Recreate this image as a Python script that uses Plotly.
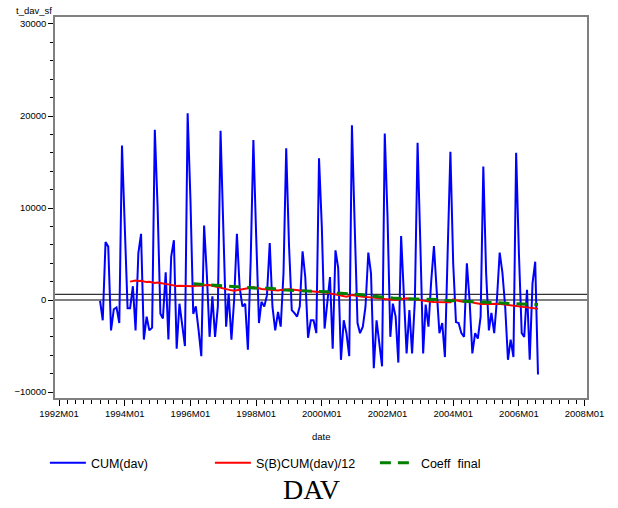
import pandas as pd
import plotly.graph_objects as go

# CUM(dav), monthly from 1993M04
cum_dav = [
    -100, -2200, 6300, 5800, -3300, -1000, -800, -2500, 16800,
    8000, -900, -900, 1500, -3300, 5100, 7200, -4300, -1800, -3300, -3000, 18500,
    10100, -1500, -2000, 3000, -4300, 4700, 6500, -5300, -400, -2900, -5000, 20300,
    11000, -1500, -700, -3300, -6100, 8100, 2900, -4000, 400, -4000, -700, 18400,
    9000, -2900, 700, -4300, 0, 7200, 1400, -700, -400, -5400, 4300, 17400,
    7000, -2500, -200, -700, 500, 6200, -700, -3300, -1300, -2900, 2900, 16500,
    6000, -1100, -1400, -1800, -700, 5300, 2500, -4100, -2200, -2200, -3600, 15400,
    8000, -3100, -400, 2500, -5300, 5400, 3500, -6500, -2200, -3600, -6100, 19000,
    8000, -2500, -3600, -2900, -700, 5150, 2900, -7400, -2200, -4700, -7200, 18100,
    9000, -4000, -400, -1800, -6800, 6950, 0, -5800, -1100, -5800, 0, 17100,
    6000, -5800, -500, -2900, 2000, 5870, 1100, -3600, -2500, -6200, 5400, 16100,
    4000, -2400, -2500, -3600, -4000, 4000, 0, -5800, -3600, -4200, -1800, 14500,
    3000, -3300, -1400, -3600, 0, 5150, 3000, -700, -6500, -4300, -6200, 16000,
    5000, -3600, -4000, 1100, -6500, 1800, 4170, -8100,
]

# S(B)CUM(dav)/12, monthly from 1994M03
sb_cum = [
    2000, 2050, 2120, 2080, 2100, 2020, 1950, 1980, 1880, 1850,
    1900, 1820, 1780, 1740, 1700, 1650, 1580, 1520, 1560, 1540, 1500, 1530,
    1520, 1490, 1540, 1520, 1560, 1600, 1640, 1630, 1560, 1480, 1400, 1330,
    1270, 1200, 1130, 1050, 1010, 1060, 1090, 1100, 1150, 1250, 1330, 1380,
    1350, 1280, 1200, 1160, 1120, 1080, 1050, 1010, 1030, 1080, 1120, 1160,
    1160, 1150, 1100, 1060, 1030, 1010, 1000, 980, 950, 930, 910, 900,
    880, 850, 800, 720, 650, 580, 500, 430, 380, 360, 450, 540,
    500, 430, 380, 360, 340, 320, 300, 290, 250, 200, 150, 110,
    110, 80, 40, 0, 60, 120, 160, 180, 150, 100, 50, 0,
    0, -60, -120, -180, -200, -220, -240, -250, -260, -260, -250, -250,
    70, -20, -100, -150, -160, -170, -180, -250, -330, -400, -430, -440,
    -430, -430, -420, -400, -360, -400, -450, -500, -540, -580, -630, -680,
    -720, -740, -770, -800, -840, -880, -920, -950,
]

# Coeff final, monthly from 1996M02
coeff_final = [
    1760, 1740, 1720, 1700, 1670, 1640, 1600, 1560, 1540, 1520, 1500,
    1480, 1460, 1450, 1440, 1430, 1420, 1400, 1370, 1330, 1290, 1270, 1260,
    1260, 1270, 1290, 1300, 1300, 1280, 1240, 1190, 1140, 1110, 1100, 1080,
    1070, 1050, 1030, 1010, 1000, 990, 990, 990, 990, 990, 990, 980,
    960, 930, 890, 840, 790, 750, 740, 730, 720, 700, 680, 650,
    640, 630, 620, 580, 520, 460, 420, 400, 380, 340, 290, 250,
    230, 220, 210, 200, 180, 150, 120, 110, 110, 110, 100, 100,
    100, 110, 110, 100, 90, 80, 70, 40, 0, -40, -70, -80,
    -80, -90, -110, -130, -140, -140, -150, -160, -170, -180, -180, -190,
    -200, -220, -240, -250, -260, -280, -310, -340, -360, -380, -400, -420,
    -430, -440, -450, -460, -470, -480, -490, -500,
]

ref_lines = [0, 620]
year_ticks = list(range(1992, 2010, 2))
x_tick_labels = [f"{y}M01" for y in year_ticks]
y_ticks = [-10000, 0, 10000, 20000, 30000]
y_tick_labels = ["\u221210000", "0", "10000", "20000", "30000"]

d_cum = pd.date_range("1993-04-01", periods=len(cum_dav), freq="MS")
d_sb = pd.date_range("1994-03-01", periods=len(sb_cum), freq="MS")
d_cf = pd.date_range("1996-02-01", periods=len(coeff_final), freq="MS")

fig = go.Figure()
fig.add_trace(go.Scatter(x=d_cum, y=cum_dav, mode="lines", name="CUM(dav)",
                         line=dict(color="#0000ff", width=2)))
fig.add_trace(go.Scatter(x=d_sb, y=sb_cum, mode="lines", name="S(B)CUM(dav)/12",
                         line=dict(color="#ff0000", width=2)))
fig.add_trace(go.Scatter(x=d_cf, y=coeff_final, mode="lines", name="Coeff  final",
                         line=dict(color="#008000", width=3, dash="11px,7px")))

# reference lines
fig.add_shape(type="line", xref="paper", x0=0, x1=1, y0=ref_lines[0], y1=ref_lines[0],
              line=dict(color="#808080", width=2), layer="below")
fig.add_shape(type="line", xref="paper", x0=0, x1=1, y0=ref_lines[1], y1=ref_lines[1],
              line=dict(color="#000000", width=1), layer="below")

font = "Liberation Sans, Arial, sans-serif"
fig.update_xaxes(
    type="date", range=["1991-11-17", "2008-01-28"],
    tickvals=[f"{y}-01-01" for y in year_ticks], ticktext=x_tick_labels,
    ticks="outside", ticklen=6, tickcolor="#000", tickfont=dict(size=9.5, color="#000"),
    minor=dict(dtick="M3", tick0="1992-01-01", ticks="outside", ticklen=4, tickcolor="#000"),
    showline=True, linecolor="#808080", linewidth=1.5, mirror=True, showgrid=False,
    zeroline=False, automargin=False,
)
fig.update_yaxes(
    range=[-10650, 30760], tickvals=y_ticks, ticktext=y_tick_labels,
    ticks="outside", ticklen=5, tickcolor="#000", tickfont=dict(size=9.5, color="#000"),
    minor=dict(dtick=2000, ticks="outside", ticklen=3, tickcolor="#000"),
    showline=True, linecolor="#808080", linewidth=1.5, mirror=True, showgrid=False,
    zeroline=False, automargin=False,
)

fig.add_annotation(text="t_dav_sf", xref="paper", yref="paper", x=-0.077, y=1.018,
                   xanchor="left", yanchor="middle", showarrow=False, font=dict(size=9.5))
fig.add_annotation(text="date", xref="paper", yref="paper", x=0.5, y=-0.102,
                   xanchor="center", yanchor="middle", showarrow=False, font=dict(size=9.5))
fig.add_annotation(text="DAV", xref="paper", yref="paper", x=0.483, y=-0.241,
                   xanchor="center", yanchor="middle", showarrow=False,
                   font=dict(size=28, family="Liberation Serif, Times New Roman, serif"))

fig.update_layout(
    width=618, height=508,
    margin=dict(l=55, r=31, t=17, b=110, autoexpand=False),
    paper_bgcolor="white", plot_bgcolor="white",
    font=dict(family=font, color="#000"),
    showlegend=True,
    legend=dict(orientation="h", x=-0.019, xanchor="left", y=-0.171, yanchor="middle",
                entrywidth=114, entrywidthmode="pixels", itemwidth=36,
                font=dict(size=12.5), bgcolor="rgba(0,0,0,0)", tracegroupgap=0),
)

# remove the page's default body margin so the figure sits at the window corner
fig.write_html("out.html", config={"displayModeBar": False},
               post_script="document.body.style.margin='0px';")
